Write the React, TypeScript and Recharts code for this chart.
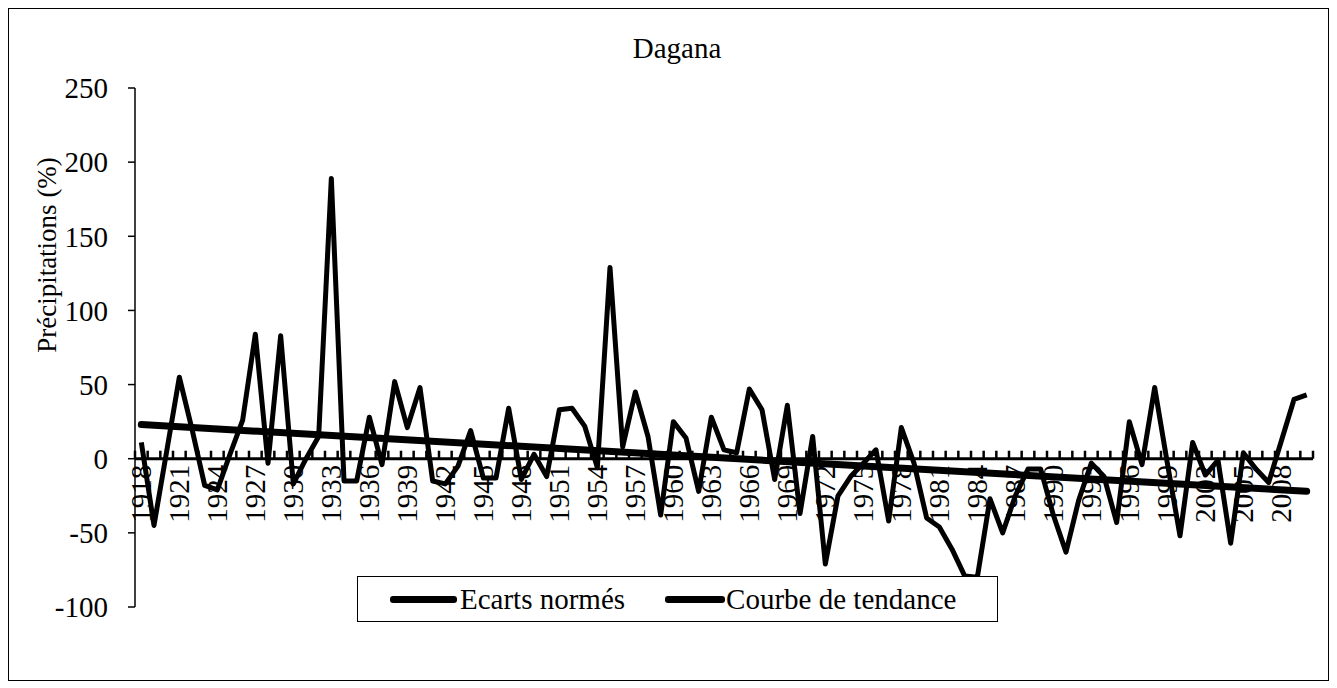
import { LineChart, Line, XAxis, YAxis, ReferenceLine, Legend, Label } from "recharts";

const years = [
  1918, 1919, 1920, 1921, 1922, 1923, 1924, 1925, 1926, 1927,
  1928, 1929, 1930, 1931, 1932, 1933, 1934, 1935, 1936, 1937,
  1938, 1939, 1940, 1941, 1942, 1943, 1944, 1945, 1946, 1947,
  1948, 1949, 1950, 1951, 1952, 1953, 1954, 1955, 1956, 1957,
  1958, 1959, 1960, 1961, 1962, 1963, 1964, 1965, 1966, 1967,
  1968, 1969, 1970, 1971, 1972, 1973, 1974, 1975, 1976, 1977,
  1978, 1979, 1980, 1981, 1982, 1983, 1984, 1985, 1986, 1987,
  1988, 1989, 1990, 1991, 1992, 1993, 1994, 1995, 1996, 1997,
  1998, 1999, 2000, 2001, 2002, 2003, 2004, 2005, 2006, 2007,
  2008, 2009, 2010,
];

// Ecarts normés (%)
const ecarts = [
  11, -45, 5, 55, 20, -18, -21, 3, 26, 84,
  -3, 83, -17, 0, 15, 189, -15, -15, 28, -4,
  52, 21, 48, -15, -17, -5, 19, -13, -13, 34,
  -14, 3, -12, 33, 34, 22, -6, 129, 8, 45,
  15, -38, 25, 14, -22, 28, 6, 4, 47, 33,
  -14, 36, -37, 15, -71, -25, -12, -3, 6, -42,
  21, -3, -40, -46, -61, -79, -80, -27, -50, -25,
  -7, -7, -38, -63, -28, -3, -12, -43, 25, -4,
  48, -3, -52, 11, -11, -1, -57, 4, -7, -16,
  12, 40, 43,
];

// Courbe de tendance: values read at both ends
const trendStart = 23;
const trendEnd = -22;

const yTicks = [-100, -50, 0, 50, 100, 150, 200, 250];

const data = years.map((year, i) => ({
  year,
  ecart: ecarts[i],
  trend: i === 0 ? trendStart : i === years.length - 1 ? trendEnd : null,
}));

const FONT = '"Liberation Serif", "Times New Roman", serif';
const W = 1319;
const H = 671;
const margin = { top: 79, right: 15, bottom: 43, left: 0 };
const X_AXIS_H = 30;
const Y_AXIS_W = 126;
const PLOT_H = H - margin.top - margin.bottom - X_AXIS_H;
const PLOT_W = W - Y_AXIS_W - margin.right;
const BAND = PLOT_W / years.length;
const Y_MIN = yTicks[0];
const Y_MAX = yTicks[yTicks.length - 1];
const ZERO_Y = margin.top + (PLOT_H * Y_MAX) / (Y_MAX - Y_MIN);

const XTick = (props: any) => {
  const { x, index, payload } = props;
  const left = x - BAND / 2;
  const ty = ZERO_Y + 6;
  return (
    <g>
      <line x1={left} x2={left} y1={ZERO_Y} y2={ZERO_Y - 8} stroke="#000" strokeWidth={2.5} />
      {index === years.length - 1 && (
        <line x1={x + BAND / 2} x2={x + BAND / 2} y1={ZERO_Y} y2={ZERO_Y - 8} stroke="#000" strokeWidth={2.5} />
      )}
      {index % 3 === 0 && (
        <text
          x={x}
          y={ty}
          transform={`rotate(-90 ${x} ${ty})`}
          textAnchor="end"
          dy="0.33em"
          fontSize={29}
          fontFamily={FONT}
          fill="#000"
        >
          {payload.value}
        </text>
      )}
    </g>
  );
};

const LegendBox = () => (
  <div
    style={{
      boxSizing: "border-box",
      width: 641,
      height: 46,
      border: "1px solid #000",
      background: "#fff",
      display: "flex",
      alignItems: "center",
      paddingLeft: 32,
      fontFamily: FONT,
      fontSize: 29,
      color: "#000",
      whiteSpace: "nowrap",
    }}
  >
    <span style={{ display: "inline-block", width: 67, height: 7, background: "#000", borderRadius: 3 }} />
    <span style={{ marginLeft: 3 }}>Ecarts normés</span>
    <span style={{ display: "inline-block", width: 60, height: 7, background: "#000", borderRadius: 3, marginLeft: 40 }} />
    <span style={{ marginLeft: 1 }}>Courbe de tendance</span>
  </div>
);

export default function App() {
  return (
    <div style={{ position: "relative", width: W, height: H, border: "1px solid #000", background: "#fff" }}>
      <div
        style={{
          position: "absolute",
          left: 518,
          top: 25,
          width: 300,
          textAlign: "center",
          fontFamily: FONT,
          fontSize: 29,
          lineHeight: "29px",
          color: "#000",
        }}
      >
        Dagana
      </div>
      <LineChart width={W} height={H} data={data} margin={margin}>
        <XAxis
          dataKey="year"
          interval={0}
          height={X_AXIS_H}
          padding={{ left: BAND / 2, right: BAND / 2 }}
          axisLine={false}
          tickLine={false}
          tick={(p: any) => <XTick {...p} />}
        />
        <YAxis
          width={Y_AXIS_W}
          domain={[Y_MIN, Y_MAX]}
          ticks={yTicks}
          interval={0}
          axisLine={{ stroke: "#000", strokeWidth: 1.5 }}
          tickLine={{ stroke: "#000", strokeWidth: 1.5 }}
          tickSize={7}
          tickMargin={20}
          tick={{ fontSize: 29, fontFamily: FONT, fill: "#000" }}
        >
          <Label
            content={() => (
              <text
                x={38}
                y={246}
                transform="rotate(-90 38 246)"
                textAnchor="middle"
                dy="0.33em"
                fontSize={27}
                fontFamily={FONT}
                fill="#000"
              >
                Précipitations (%)
              </text>
            )}
          />
        </YAxis>
        <ReferenceLine y={0} stroke="#000" strokeWidth={3} />
        <Line
          dataKey="ecart"
          stroke="#000"
          strokeWidth={5}
          strokeLinejoin="round"
          dot={false}
          isAnimationActive={false}
        />
        <Line
          dataKey="trend"
          stroke="#000"
          strokeWidth={7}
          strokeLinecap="round"
          dot={false}
          connectNulls
          isAnimationActive={false}
        />
        <Legend
          layout="horizontal"
          align="center"
          verticalAlign="middle"
          wrapperStyle={{ position: "absolute", left: 348, top: 567, width: 641, height: 46 }}
          content={() => <LegendBox />}
        />
      </LineChart>
    </div>
  );
}
